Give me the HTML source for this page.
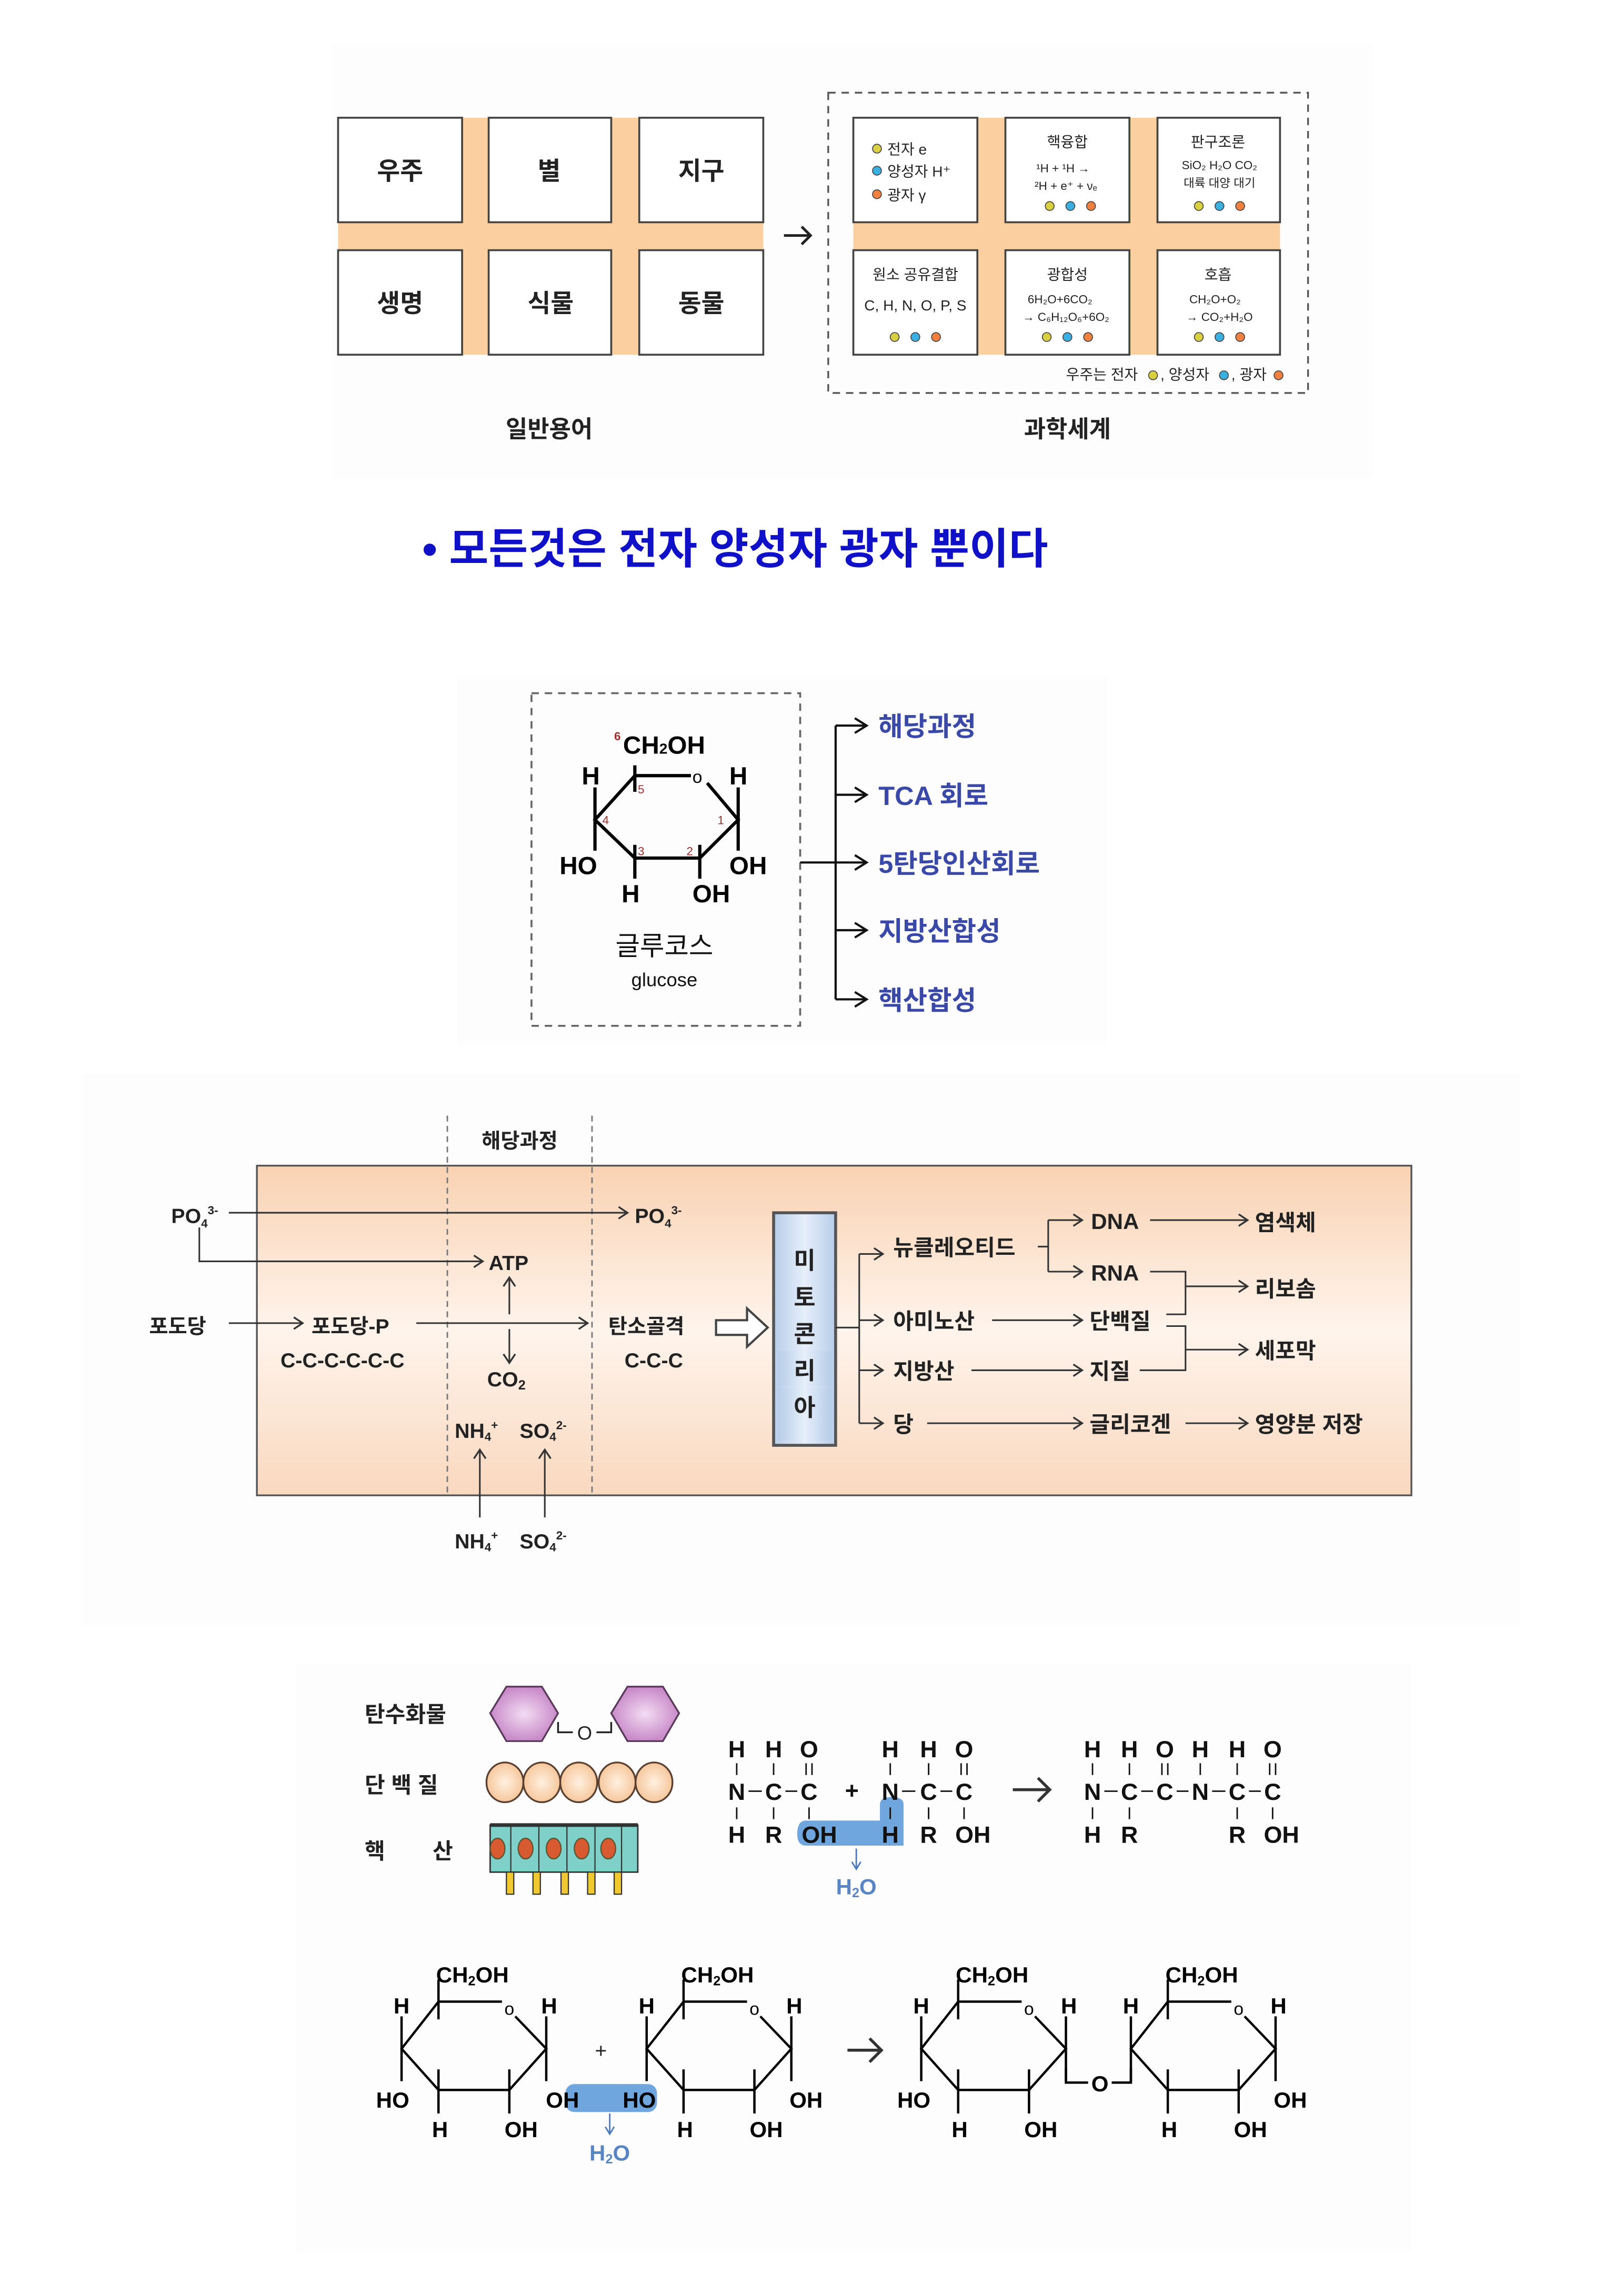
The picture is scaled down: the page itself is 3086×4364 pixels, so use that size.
<!DOCTYPE html>
<html><head><meta charset="utf-8">
<style>
html,body{margin:0;padding:0;background:#fff;}
svg{display:block;}
text{font-family:"Liberation Sans","Noto Sans CJK KR",sans-serif;}
</style></head>
<body>
<svg width="3086" height="4364" viewBox="0 0 1100 1560" preserveAspectRatio="none" xmlns="http://www.w3.org/2000/svg">
<defs>
<linearGradient id="peach" x1="0" y1="0" x2="0" y2="1">
<stop offset="0" stop-color="#f9d2b2"/><stop offset="0.5" stop-color="#fff4ec"/><stop offset="1" stop-color="#f9d8bf"/>
</linearGradient>
<linearGradient id="mito" x1="0" y1="0" x2="1" y2="0">
<stop offset="0" stop-color="#b7cde9"/><stop offset="0.5" stop-color="#e6effa"/><stop offset="1" stop-color="#b7cde9"/>
</linearGradient>
<radialGradient id="purp"><stop offset="0" stop-color="#f3dcf3"/><stop offset="1" stop-color="#c88ac8"/></radialGradient>
<radialGradient id="bead"><stop offset="0" stop-color="#fff0e0"/><stop offset="1" stop-color="#f6c79c"/></radialGradient>
<marker id="ar" markerWidth="10" markerHeight="10" refX="8" refY="5" orient="auto" markerUnits="userSpaceOnUse"><path d="M2,1 L8,5 L2,9" fill="none" stroke="#333" stroke-width="1.2"/></marker>
<marker id="ar2" markerWidth="12" markerHeight="12" refX="10" refY="6" orient="auto" markerUnits="userSpaceOnUse"><path d="M2,1 L10,6 L2,11" fill="none" stroke="#111" stroke-width="1.5"/></marker>
</defs>

<!-- faint backgrounds -->
<rect x="225" y="30" width="705" height="295" fill="#fdfdfd"/>
<rect x="310" y="460" width="440" height="250" fill="#fdfdfd"/>
<rect x="55" y="730" width="975" height="375" fill="#fdfdfd"/>
<rect x="200" y="1130" width="755" height="400" fill="#fdfdfd"/>

<!-- Section 1 left -->
<rect x="229" y="80" width="288" height="161" fill="#fbcf9f"/>
<g fill="#fff" stroke="#444" stroke-width="1.3">
<rect x="229" y="80" width="84" height="71"/><rect x="331" y="80" width="83" height="71"/><rect x="433" y="80" width="84" height="71"/>
<rect x="229" y="170" width="84" height="71"/><rect x="331" y="170" width="83" height="71"/><rect x="433" y="170" width="84" height="71"/>
</g>
<g font-size="17" font-weight="bold" fill="#222" text-anchor="middle">
<text x="271" y="122">우주</text><text x="372" y="122">별</text><text x="475" y="122">지구</text>
<text x="271" y="212">생명</text><text x="373" y="212">식물</text><text x="475" y="212">동물</text>
</g>
<g stroke="#222" stroke-width="1.8" fill="none"><line x1="531" y1="160" x2="549" y2="160"/><path d="M543,154 L549,160 L543,166"/></g>

<!-- Section 1 right -->
<rect x="561" y="63" width="325" height="204" fill="none" stroke="#555" stroke-width="1.2" stroke-dasharray="5,4"/>
<rect x="578" y="80" width="289" height="161" fill="#fbcf9f"/>
<g fill="#fff" stroke="#444" stroke-width="1.3">
<rect x="578" y="80" width="84" height="71"/><rect x="681" y="80" width="84" height="71"/><rect x="784" y="80" width="83" height="71"/>
<rect x="578" y="170" width="84" height="71"/><rect x="681" y="170" width="84" height="71"/><rect x="784" y="170" width="83" height="71"/>
</g>
<g font-size="10" fill="#222">
<circle cx="594" cy="101" r="3" fill="#d8d040" stroke="#444" stroke-width="0.6"/><text x="601" y="105">전자 e</text>
<circle cx="594" cy="116" r="3" fill="#3bb0e0" stroke="#444" stroke-width="0.6"/><text x="601" y="120">양성자 H⁺</text>
<circle cx="594" cy="132" r="3" fill="#f08040" stroke="#444" stroke-width="0.6"/><text x="601" y="136">광자 γ</text>
</g>
<g font-size="10" fill="#222" text-anchor="middle">
<text x="723" y="100">핵융합</text>
<text x="720" y="117" font-size="8">¹H + ¹H →</text>
<text x="722" y="129" font-size="8">²H + e⁺ + νₑ</text>
<text x="825" y="100">판구조론</text>
<text x="826" y="115" font-size="8">SiO₂   H₂O   CO₂</text>
<text x="826" y="127" font-size="8">대륙   대양   대기</text>
<text x="620" y="190">원소 공유결합</text>
<text x="620" y="211" font-size="10">C, H, N, O, P, S</text>
<text x="723" y="190">광합성</text>
<text x="718" y="206" font-size="8">6H₂O+6CO₂</text>
<text x="722" y="218" font-size="8">→ C₆H₁₂O₆+6O₂</text>
<text x="825" y="190">호흡</text>
<text x="823" y="206" font-size="8">CH₂O+O₂</text>
<text x="826" y="218" font-size="8">→ CO₂+H₂O</text>
</g>
<g stroke="#444" stroke-width="0.6">
<g fill="#d8d040"><circle cx="711" cy="140" r="3"/><circle cx="812" cy="140" r="3"/><circle cx="606" cy="229" r="3"/><circle cx="709" cy="229" r="3"/><circle cx="812" cy="229" r="3"/></g>
<g fill="#3bb0e0"><circle cx="725" cy="140" r="3"/><circle cx="826" cy="140" r="3"/><circle cx="620" cy="229" r="3"/><circle cx="723" cy="229" r="3"/><circle cx="826" cy="229" r="3"/></g>
<g fill="#f08040"><circle cx="739" cy="140" r="3"/><circle cx="840" cy="140" r="3"/><circle cx="634" cy="229" r="3"/><circle cx="737" cy="229" r="3"/><circle cx="840" cy="229" r="3"/></g>
</g>
<g font-size="10" fill="#222">
<text x="722" y="258">우주는 전자</text><circle cx="781" cy="255" r="3" fill="#d8d040" stroke="#444" stroke-width="0.6"/>
<text x="786" y="258">, 양성자</text><circle cx="829" cy="255" r="3" fill="#3bb0e0" stroke="#444" stroke-width="0.6"/>
<text x="834" y="258">, 광자</text><circle cx="866" cy="255" r="3" fill="#f08040" stroke="#444" stroke-width="0.6"/>
</g>
<g font-size="16" font-weight="bold" fill="#222" text-anchor="middle">
<text x="372" y="297">일반용어</text><text x="723" y="297">과학세계</text>
</g>

<!-- Title -->
<text x="286" y="383" font-size="29" font-weight="bold" fill="#1010c8">• 모든것은 전자 양성자 광자 뿐이다</text>

<!-- Section 2 glucose -->
<rect x="360" y="471" width="182" height="226" fill="none" stroke="#666" stroke-width="1.3" stroke-dasharray="5,4"/>
<g stroke="#000" stroke-width="2.2" fill="none">
<path d="M430,527 L468,527 M479,532 L500,557 L474,583 L430,583 L403,557 L430,527"/>
<path d="M430,520 L430,538 M403,535 L403,578 M500,535 L500,578 M430,574 L430,597 M474,574 L474,597"/>
</g>
<g font-weight="bold" fill="#000">
<text x="422" y="512" font-size="17">CH<tspan font-size="10">2</tspan>OH</text>
<text x="416" y="503" font-size="8" fill="#a03030">6</text>
<text x="394" y="533" font-size="17">H</text>
<text x="494" y="533" font-size="17">H</text>
<text x="469" y="532" font-size="12" font-weight="normal">o</text>
<text x="379" y="594" font-size="17">HO</text>
<text x="494" y="594" font-size="17">OH</text>
<text x="421" y="613" font-size="17">H</text>
<text x="469" y="613" font-size="17">OH</text>
</g>
<g font-size="8" fill="#a03030">
<text x="432" y="539">5</text><text x="408" y="560">4</text><text x="486" y="560">1</text><text x="432" y="581">3</text><text x="465" y="581">2</text>
</g>
<text x="450" y="649" font-size="18" text-anchor="middle" fill="#111">글루코스</text>
<text x="450" y="670" font-size="13" text-anchor="middle" fill="#111">glucose</text>
<g stroke="#111" stroke-width="1.5" fill="none">
<line x1="542" y1="586" x2="587" y2="586" marker-end="url(#ar2)"/>
<line x1="566" y1="493" x2="566" y2="679"/>
<line x1="566" y1="493" x2="587" y2="493" marker-end="url(#ar2)"/>
<line x1="566" y1="540" x2="587" y2="540" marker-end="url(#ar2)"/>
<line x1="566" y1="632" x2="587" y2="632" marker-end="url(#ar2)"/>
<line x1="566" y1="679" x2="587" y2="679" marker-end="url(#ar2)"/>
</g>
<g font-size="18" font-weight="bold" fill="#3a48a8">
<text x="595" y="500">해당과정</text><text x="595" y="547">TCA 회로</text><text x="595" y="593">5탄당인산회로</text>
<text x="595" y="639">지방산합성</text><text x="595" y="686">핵산합성</text>
</g>

<!-- Section 3 -->
<rect x="174" y="792" width="782" height="224" fill="url(#peach)" stroke="#555" stroke-width="1.2"/>
<g stroke="#777" stroke-width="1" stroke-dasharray="4,3">
<line x1="303" y1="758" x2="303" y2="1016"/><line x1="401" y1="758" x2="401" y2="1016"/>
</g>
<g font-size="14" font-weight="bold" fill="#222">
<text x="352" y="780" text-anchor="middle">해당과정</text>
<text x="116" y="831">PO<tspan font-size="8" dy="3">4</tspan><tspan font-size="8" dy="-9">3-</tspan></text>
<text x="430" y="831">PO<tspan font-size="8" dy="3">4</tspan><tspan font-size="8" dy="-9">3-</tspan></text>
<text x="331" y="863">ATP</text>
<text x="101" y="906">포도당</text>
<text x="211" y="906">포도당-P</text>
<text x="190" y="929">C-C-C-C-C-C</text>
<text x="412" y="906">탄소골격</text>
<text x="423" y="929">C-C-C</text>
<text x="330" y="942">CO<tspan font-size="9" dy="2">2</tspan></text>
<text x="308" y="977">NH<tspan font-size="8" dy="2">4</tspan><tspan font-size="8" dy="-8">+</tspan></text>
<text x="352" y="977">SO<tspan font-size="8" dy="2">4</tspan><tspan font-size="8" dy="-8">2-</tspan></text>
<text x="308" y="1052">NH<tspan font-size="8" dy="2">4</tspan><tspan font-size="8" dy="-8">+</tspan></text>
<text x="352" y="1052">SO<tspan font-size="8" dy="2">4</tspan><tspan font-size="8" dy="-8">2-</tspan></text>
</g>
<g stroke="#333" stroke-width="1.1" fill="none">
<line x1="155" y1="824" x2="425" y2="824" marker-end="url(#ar)"/>
<polyline points="135,834 135,857 327,857" marker-end="url(#ar)"/>
<line x1="155" y1="899" x2="205" y2="899" marker-end="url(#ar)"/>
<line x1="282" y1="899" x2="398" y2="899" marker-end="url(#ar)"/>
<line x1="345" y1="893" x2="345" y2="868" marker-end="url(#ar)"/>
<line x1="345" y1="903" x2="345" y2="926" marker-end="url(#ar)"/>
<line x1="325" y1="1031" x2="325" y2="985" marker-end="url(#ar)"/>
<line x1="369" y1="1031" x2="369" y2="985" marker-end="url(#ar)"/>
<path d="M485,897 L506,897 L506,889 L520,902 L506,915 L506,907 L485,907 Z" stroke="#444" stroke-width="1.5" fill="#fff"/>
</g>
<rect x="524" y="824" width="42" height="158" fill="url(#mito)" stroke="#555" stroke-width="2"/>
<g font-size="16" font-weight="bold" fill="#222" text-anchor="middle">
<text x="545" y="862">미</text><text x="545" y="887">토</text><text x="545" y="912">콘</text><text x="545" y="937">드</text><text x="545" y="962">리</text>
</g>
<g stroke="#333" stroke-width="1.1" fill="none">
<line x1="566" y1="902" x2="582" y2="902"/>
<line x1="582" y1="852" x2="582" y2="967"/>
<line x1="582" y1="852" x2="598" y2="852" marker-end="url(#ar)"/>
<line x1="582" y1="897" x2="598" y2="897" marker-end="url(#ar)"/>
<line x1="582" y1="931" x2="598" y2="931" marker-end="url(#ar)"/>
<line x1="582" y1="967" x2="598" y2="967" marker-end="url(#ar)"/>
<line x1="703" y1="847" x2="710" y2="847"/>
<line x1="710" y1="829" x2="710" y2="864"/>
<line x1="710" y1="829" x2="733" y2="829" marker-end="url(#ar)"/>
<line x1="710" y1="864" x2="733" y2="864" marker-end="url(#ar)"/>
<line x1="779" y1="829" x2="845" y2="829" marker-end="url(#ar)"/>
<polyline points="779,864 803,864 803,893 790,893"/>
<line x1="803" y1="874" x2="845" y2="874" marker-end="url(#ar)"/>
<polyline points="790,901 803,901 803,931 772,931"/>
<line x1="803" y1="917" x2="845" y2="917" marker-end="url(#ar)"/>
<line x1="672" y1="897" x2="733" y2="897" marker-end="url(#ar)"/>
<line x1="658" y1="931" x2="733" y2="931" marker-end="url(#ar)"/>
<line x1="628" y1="967" x2="733" y2="967" marker-end="url(#ar)"/>
<line x1="803" y1="967" x2="845" y2="967" marker-end="url(#ar)"/>
</g>
<g font-size="15" font-weight="bold" fill="#222">
<text x="605" y="853">뉴클레오티드</text><text x="605" y="903">아미노산</text><text x="605" y="937">지방산</text><text x="605" y="973">당</text>
<text x="739" y="835">DNA</text><text x="739" y="870">RNA</text><text x="738" y="903">단백질</text><text x="738" y="937">지질</text><text x="738" y="973">글리코겐</text>
<text x="850" y="836">염색체</text><text x="850" y="881">리보솜</text><text x="850" y="923">세포막</text><text x="850" y="973">영양분 저장</text>
</g>
<rect x="527" y="943" width="36" height="36" fill="url(#mito)"/>
<text x="545" y="962" font-size="16" font-weight="bold" fill="#222" text-anchor="middle">아</text>
<rect x="527" y="918" width="36" height="24" fill="url(#mito)"/>
<text x="545" y="937" font-size="16" font-weight="bold" fill="#222" text-anchor="middle">리</text>

<!-- Section 4 -->
<g font-size="15" font-weight="bold" fill="#222">
<text x="247" y="1170">탄수화물</text><text x="247" y="1218">단 백 질</text><text x="247" y="1263">핵</text><text x="293" y="1263">산</text>
</g>
<g stroke="#5a3a5a" stroke-width="1.2" fill="url(#purp)">
<polygon points="343,1146 367,1146 378,1164 367,1183 343,1183 332,1164"/>
<polygon points="425,1146 449,1146 460,1164 449,1183 425,1183 414,1164"/>
</g>
<path d="M378,1170 L378,1177 L388,1177 M404,1177 L414,1177 L414,1170" stroke="#222" stroke-width="1.2" fill="none"/>
<text x="396" y="1182" font-size="13" text-anchor="middle" fill="#222">O</text>
<g stroke="#5a4030" stroke-width="1.2" fill="url(#bead)">
<ellipse cx="342" cy="1211" rx="12.5" ry="13.5"/><ellipse cx="367" cy="1211" rx="12.5" ry="13.5"/><ellipse cx="392" cy="1211" rx="12.5" ry="13.5"/><ellipse cx="418" cy="1211" rx="12.5" ry="13.5"/><ellipse cx="443" cy="1211" rx="12.5" ry="13.5"/>
</g>
<rect x="332" y="1240" width="100" height="32" fill="#7fd0c8" stroke="#333" stroke-width="1"/>
<line x1="332" y1="1240" x2="432" y2="1240" stroke="#333" stroke-width="2.5"/>
<g stroke="#333" stroke-width="0.8"><line x1="346" y1="1240" x2="346" y2="1272"/><line x1="365" y1="1240" x2="365" y2="1272"/><line x1="384" y1="1240" x2="384" y2="1272"/><line x1="403" y1="1240" x2="403" y2="1272"/><line x1="421" y1="1240" x2="421" y2="1272"/></g>
<g fill="#d85a30" stroke="#553" stroke-width="0.8">
<ellipse cx="337" cy="1256" rx="5" ry="7"/><ellipse cx="356" cy="1256" rx="5" ry="7"/><ellipse cx="375" cy="1256" rx="5" ry="7"/><ellipse cx="394" cy="1256" rx="5" ry="7"/><ellipse cx="412" cy="1256" rx="5" ry="7"/>
</g>
<g fill="#f0c830" stroke="#333" stroke-width="0.8">
<rect x="343" y="1272" width="5" height="15"/><rect x="361" y="1272" width="5" height="15"/><rect x="380" y="1272" width="5" height="15"/><rect x="398" y="1272" width="5" height="15"/><rect x="416" y="1272" width="5" height="15"/>
</g>

<!-- peptide -->
<path d="M546,1237 L596,1237 L596,1226 Q596,1221 604,1221 Q612,1221 612,1226 L612,1254 L546,1254 Q540,1254 540,1246 Q540,1237 546,1237 Z" fill="#6fa6dd"/>
<g font-size="16" font-weight="bold" fill="#111" text-anchor="middle">
<text x="499" y="1194">H</text><text x="524" y="1194">H</text><text x="548" y="1194">O</text>
<text x="603" y="1194">H</text><text x="629" y="1194">H</text><text x="653" y="1194">O</text>
<text x="499" y="1223">N</text><text x="524" y="1223">C</text><text x="548" y="1223">C</text>
<text x="577" y="1222">+</text>
<text x="603" y="1223">N</text><text x="629" y="1223">C</text><text x="653" y="1223">C</text>
<text x="499" y="1252">H</text><text x="524" y="1252">R</text><text x="555" y="1252">OH</text>
<text x="603" y="1252">H</text><text x="629" y="1252">R</text><text x="659" y="1252">OH</text>
<text x="740" y="1194">H</text><text x="765" y="1194">H</text><text x="789" y="1194">O</text><text x="813" y="1194">H</text><text x="838" y="1194">H</text><text x="862" y="1194">O</text>
<text x="740" y="1223">N</text><text x="765" y="1223">C</text><text x="789" y="1223">C</text><text x="813" y="1223">N</text><text x="838" y="1223">C</text><text x="862" y="1223">C</text>
<text x="740" y="1252">H</text><text x="765" y="1252">R</text><text x="838" y="1252">R</text><text x="868" y="1252">OH</text>
</g>
<g stroke="#333" stroke-width="2" fill="none"><line x1="686" y1="1216" x2="710" y2="1216"/><path d="M703,1208 L711,1216 L703,1224"/></g>
<g stroke="#111" stroke-width="1">
<path d="M499,1198V1206 M524,1198V1206 M546,1198V1206 M550,1198V1206 M603,1198V1206 M629,1198V1206 M651,1198V1206 M655,1198V1206"/>
<path d="M499,1228V1236 M524,1228V1236 M548,1228V1236 M603,1228V1236 M629,1228V1236 M653,1228V1236"/>
<path d="M507,1217H516 M532,1217H540 M611,1217H620 M637,1217H645"/>
<path d="M740,1198V1206 M765,1198V1206 M787,1198V1206 M791,1198V1206 M813,1198V1206 M838,1198V1206 M860,1198V1206 M864,1198V1206"/>
<path d="M740,1228V1236 M765,1228V1236 M838,1228V1236 M862,1228V1236"/>
<path d="M748,1217H757 M773,1217H781 M797,1217H805 M821,1217H830 M846,1217H854"/>
</g>
<g stroke="#4a78c0" stroke-width="1" fill="none"><line x1="580" y1="1256" x2="580" y2="1270"/><path d="M577,1265 L580,1270 L583,1265"/></g>
<text x="580" y="1287" font-size="15" font-weight="bold" text-anchor="middle" fill="#5a85c5">H<tspan font-size="9" dy="2">2</tspan><tspan dy="-2">O</tspan></text>

<!-- disaccharides -->
<rect x="383" y="1416" width="62" height="19" rx="6" fill="#6fa6dd"/>
<g stroke="#000" stroke-width="1.6" fill="none">
<g id="ringA">
<path d="M297,1360 L340,1360 M349,1370 L370,1392 L345,1420 L297,1420 L272,1392 L297,1360"/>
<path d="M297,1345 V1372 M272,1370 V1414 M370,1370 V1414 M297,1406 V1436 M345,1406 V1436"/>
</g>
<use href="#ringA" x="166"/>
<use href="#ringA" x="352"/>
<use href="#ringA" x="494"/>
</g>
<path d="M722,1405 V1415 H737 M753,1415 H766 V1405" stroke="#000" stroke-width="1.6" fill="none"/>
<g font-size="15" font-weight="bold" fill="#000" text-anchor="middle">
<text x="320" y="1347">CH<tspan font-size="9" dy="2">2</tspan><tspan dy="-2">OH</tspan></text>
<text x="486" y="1347">CH<tspan font-size="9" dy="2">2</tspan><tspan dy="-2">OH</tspan></text>
<text x="672" y="1347">CH<tspan font-size="9" dy="2">2</tspan><tspan dy="-2">OH</tspan></text>
<text x="814" y="1347">CH<tspan font-size="9" dy="2">2</tspan><tspan dy="-2">OH</tspan></text>
<text x="272" y="1368">H</text><text x="372" y="1368">H</text><text x="438" y="1368">H</text><text x="538" y="1368">H</text>
<text x="624" y="1368">H</text><text x="724" y="1368">H</text><text x="766" y="1368">H</text><text x="866" y="1368">H</text>
<text x="266" y="1432">HO</text><text x="381" y="1432">OH</text><text x="433" y="1432">HO</text><text x="546" y="1432">OH</text>
<text x="619" y="1432">HO</text><text x="874" y="1432">OH</text>
<text x="298" y="1452">H</text><text x="353" y="1452">OH</text><text x="464" y="1452">H</text><text x="519" y="1452">OH</text>
<text x="650" y="1452">H</text><text x="705" y="1452">OH</text><text x="792" y="1452">H</text><text x="847" y="1452">OH</text>
<text x="745" y="1421">O</text>
</g>
<g font-size="12" fill="#000" text-anchor="middle">
<text x="345" y="1369">o</text><text x="511" y="1369">o</text><text x="697" y="1369">o</text><text x="839" y="1369">o</text>
</g>
<text x="407" y="1398" font-size="14" text-anchor="middle" fill="#222">+</text>
<g stroke="#333" stroke-width="2" fill="none"><line x1="574" y1="1393" x2="596" y2="1393"/><path d="M589,1385 L597,1393 L589,1401"/></g>
<g stroke="#4a78c0" stroke-width="1" fill="none"><line x1="413" y1="1436" x2="413" y2="1450"/><path d="M410,1445 L413,1450 L416,1445"/></g>
<text x="413" y="1468" font-size="15" font-weight="bold" text-anchor="middle" fill="#5a85c5">H<tspan font-size="9" dy="2">2</tspan><tspan dy="-2">O</tspan></text>
</svg>
</body></html>
